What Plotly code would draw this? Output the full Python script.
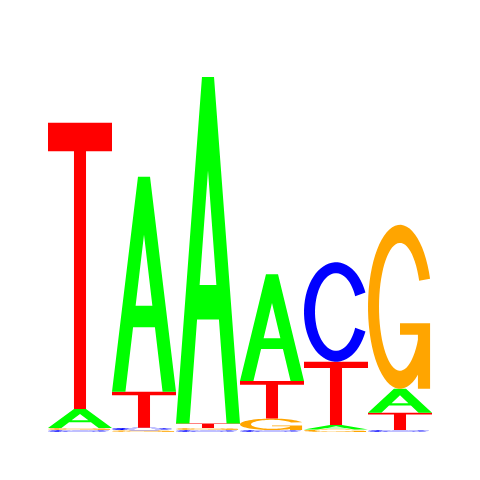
import numpy as np
import plotly.graph_objects as go

# ---- data (information content, bits) ----
positions = [1, 2, 3, 4, 5, 6]
bits_A = [0.099, 1.120, 1.805, 0.557, 0.023, 0.125]
bits_C = [0.010, 0.013, 0.010, 0.010, 0.518, 0.010]
bits_G = [0.011, 0.009, 0.011, 0.060, 0.013, 0.854]
bits_T = [1.491, 0.188, 0.023, 0.195, 0.330, 0.090]

colors = {"A": "#00FF00", "C": "#0000FF", "G": "#FFA500", "T": "#FF0000"}


def ell(cx, cy, rx, ry, a0, a1, n=60):
    t = np.radians(np.linspace(a0, a1, n))
    return list(zip(cx + rx * np.cos(t), cy + ry * np.sin(t)))


def glyph(letter):
    """Unit-square glyph outlines; each entry is a list of contours forming one filled shape."""
    if letter == "T":
        return [[[(0, 1), (1, 1), (1, 0.9), (0.594, 0.9), (0.594, 0), (0.406, 0),
                  (0.406, 0.9), (0, 0.9)]]]
    if letter == "A":
        xl = lambda y: 0.21 + 0.29 / 0.73 * y
        outer = [(0, 0), (0.406, 1), (0.594, 1), (1, 0), (0.79, 0),
                 (1 - xl(0.30), 0.30), (xl(0.30), 0.30), (0.21, 0)]
        hole = [(xl(0.40), 0.40), (1 - xl(0.40), 0.40), (0.5, 0.73)]
        return [[outer, hole]]
    if letter == "C":
        ring = ell(0.5, 0.5, 0.5, 0.5, 23, 337) + ell(0.5, 0.5, 0.328, 0.39, 336, 24)
        return [[ring]]
    if letter == "G":
        ring = ell(0.5, 0.5, 0.5, 0.5, 20, 330) + ell(0.5, 0.5, 0.328, 0.39, 330, 24)
        bar = [(0.5, 0.40), (0.97, 0.40), (0.97, 0.0), (0.78, 0.0), (0.78, 0.33), (0.5, 0.33)]
        return [[ring], [bar]]


def path_for(contours, x0, y0, h):
    parts = []
    for c in contours:
        pts = [(x0 + ux, y0 + uy * h) for ux, uy in c]
        s = "M " + " L ".join(f"{x:.5f},{y:.5f}" for x, y in pts) + " Z"
        parts.append(s)
    return " ".join(parts)


fig = go.Figure()
fig.add_trace(go.Scatter(x=positions, y=[0] * len(positions), mode="markers",
                         marker=dict(opacity=0), hoverinfo="skip", showlegend=False))

shapes = []
for i, pos in enumerate(positions):
    col = {"A": bits_A[i], "C": bits_C[i], "G": bits_G[i], "T": bits_T[i]}
    order = sorted(col.items(), key=lambda kv: kv[1])
    y = 0.0
    for letter, h in order:
        for contours in glyph(letter):
            shapes.append(dict(type="path", xref="x", yref="y",
                               path=path_for(contours, pos - 0.5, y, h),
                               fillcolor=colors[letter], line=dict(width=0),
                               layer="above"))
        y += h

fig.update_layout(
    width=480, height=480,
    margin=dict(l=40, r=56, t=40, b=56),
    paper_bgcolor="white", plot_bgcolor="white",
    shapes=shapes, showlegend=False,
    xaxis=dict(range=[0.5, 6.5], visible=False, showgrid=False, zeroline=False),
    yaxis=dict(range=[0, 2], visible=False, showgrid=False, zeroline=False),
)

fig.write_html("out.html")
